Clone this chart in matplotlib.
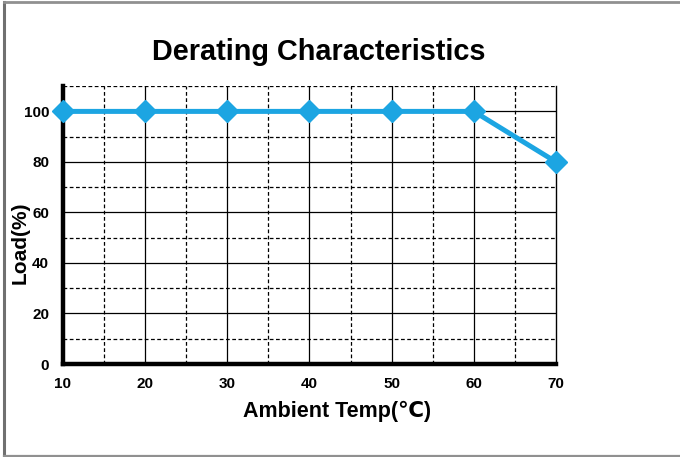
import matplotlib
matplotlib.use("Agg")
import matplotlib.pyplot as plt
from matplotlib.lines import Line2D

plt.rcParams['font.family'] = ['Liberation Sans', 'DejaVu Sans']

# data
temps = [10, 20, 30, 40, 50, 60, 70]
load = [100, 100, 100, 100, 100, 100, 80]
x_ticks = [10, 20, 30, 40, 50, 60, 70]
y_ticks = [0, 20, 40, 60, 80, 100]

fig = plt.figure(figsize=(6.8, 4.57), dpi=100)
ax = fig.add_axes([0.0926, 0.2035, 0.725, 0.608])

# grid: solid majors, dashed minors
for x in range(10, 71, 5):
    if x in (10, 70):
        continue
    ls = '-' if x % 10 == 0 else (0, (3, 2))
    ax.axvline(x, color='black', lw=0.9, ls=ls, zorder=1)
for y in range(10, 111, 10):
    ls = '-' if y % 20 == 0 else (0, (3, 2))
    ax.axhline(y, color='black', lw=0.9, ls=ls, zorder=1)

ax.plot(temps, load, color='#1ca5e2', lw=3.6, marker='D', markersize=11,
        markerfacecolor='#1ca5e2', markeredgecolor='#1ca5e2', zorder=3,
        clip_on=False)

ax.set_xlim(10, 70)
ax.set_ylim(0, 110)
ax.set_xticks(x_ticks)
ax.set_yticks(y_ticks)
ax.tick_params(axis='x', length=0, labelsize=11, pad=9)
ax.tick_params(axis='y', length=0, labelsize=11, pad=10)
for lab in ax.get_xticklabels() + ax.get_yticklabels():
    lab.set_fontweight('bold')

ax.spines['top'].set_visible(False)
ax.spines['right'].set_linewidth(1.0)
ax.spines['left'].set_linewidth(3.2)
ax.spines['bottom'].set_linewidth(3.2)

fig.text(0.468, 1 - 52 / 457, 'Derating Characteristics', fontsize=20.8,
         fontweight='bold', ha='center', va='center')
fig.text(337.5 / 680, 1 - 411 / 457, 'Ambient Temp(℃)', fontsize=15.5,
         fontweight='bold', ha='center', va='center')
fig.text(20 / 680, 1 - 243 / 457, 'Load(%)', fontsize=15,
         fontweight='bold', ha='center', va='center', rotation=90)

# outer frame
fig.add_artist(Line2D([0.006, 0.006], [0.002, 0.996], color='#707070', lw=2.2))
fig.add_artist(Line2D([0.006, 1.0], [0.996, 0.996], color='#909090', lw=2.0))
fig.add_artist(Line2D([0.006, 1.0], [0.003, 0.003], color='#909090', lw=1.6))

fig.savefig('out.png', dpi=100, facecolor='white')
